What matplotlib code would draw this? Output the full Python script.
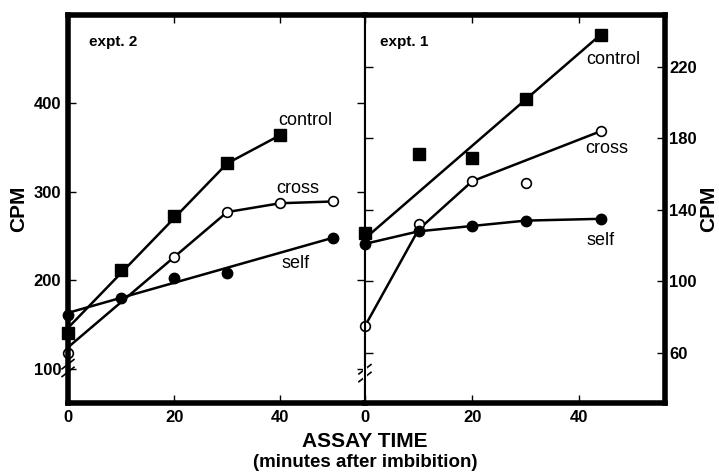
import matplotlib.pyplot as plt

plt.rcParams['font.family'] = ['Liberation Sans', 'DejaVu Sans']

# expt. 2 (left panel)
e2_control_x = [0, 10, 20, 30, 40]
e2_control_y = [140, 212, 272, 332, 364]
e2_cross_x = [0, 20, 30, 40, 50]
e2_cross_y = [118, 226, 277, 287, 289]
e2_self_x = [0, 10, 20, 30, 50]
e2_self_y = [161, 180, 202, 208, 248]
# drawn lines, expt. 2
e2_control_line_x = [0, 30, 40]
e2_control_line_y = [146, 332, 364]
e2_cross_line_x = [0, 30, 40, 50]
e2_cross_line_y = [124, 277, 287, 289]
e2_self_line_x = [0, 50]
e2_self_line_y = [163, 248]

# expt. 1 (right panel)
e1_control_x = [0, 10, 20, 30, 44]
e1_control_y = [127, 171, 169, 202, 238]
e1_cross_x = [0, 10, 20, 30, 44]
e1_cross_y = [75, 132, 156, 155, 184]
e1_self_x = [0, 10, 20, 30, 44]
e1_self_y = [121, 128, 131, 134, 135]
# drawn lines, expt. 1
e1_control_line_x = [0, 44]
e1_control_line_y = [124, 238]
e1_cross_line_x = [0, 10, 20, 44]
e1_cross_line_y = [75, 129, 156, 184]
e1_self_line_x = [0, 10, 20, 30, 44]
e1_self_line_y = [121, 128, 131, 134, 135]

left_yticks = [100, 200, 300, 400]
right_yticks = [60, 100, 140, 180, 220]
xticks = [0, 20, 40]

fig = plt.figure(figsize=(7.19, 4.74), dpi=100)
ax1 = fig.add_axes([0.0946, 0.1498, 0.413, 0.8186])
ax2 = fig.add_axes([0.5076, 0.1498, 0.4173, 0.8186])

lw = 1.8
sq = dict(marker='s', color='black', markersize=8, linestyle='none')
oc = dict(marker='o', markerfacecolor='white', markeredgecolor='black',
          markeredgewidth=1.2, markersize=7, linestyle='none')
fc = dict(marker='o', color='black', markersize=7.5, linestyle='none')

for ax in (ax1, ax2):
    ax.set_xlim(0, 56)
    for s in ax.spines.values():
        s.set_linewidth(4)
    ax.tick_params(which='both', direction='in', length=6, width=1,
                   labelsize=12, pad=5)
    ax.set_xticks(xticks)

# left panel
ax1.plot(e2_control_line_x, e2_control_line_y, color='black', lw=lw)
ax1.plot(e2_cross_line_x, e2_cross_line_y, color='black', lw=lw)
ax1.plot(e2_self_line_x, e2_self_line_y, color='black', lw=lw)
ax1.plot(e2_control_x, e2_control_y, **sq, clip_on=False)
ax1.plot(e2_cross_x, e2_cross_y, **oc, clip_on=False)
ax1.plot(e2_self_x, e2_self_y, **fc, clip_on=False)
ax1.set_ylim(61, 500)
ax1.set_yticks(left_yticks)
ax1.set_yticklabels([str(v) for v in left_yticks], fontweight='bold')
ax1.set_xticklabels([str(v) for v in xticks], fontweight='bold')
ax1.tick_params(top=True, right=True)
ax1.spines['right'].set_linewidth(1.5)
ax1.set_ylabel('CPM', fontsize=15, fontweight='bold', labelpad=4)
ax1.text(0.07, 0.93, 'expt. 2', transform=ax1.transAxes, fontsize=11,
         fontweight='bold', va='center')
ax1.text(44.7, 381, 'control', fontsize=13, ha='center', va='center')
ax1.text(43.4, 304, 'cross', fontsize=13, ha='center', va='center')
ax1.text(43, 219, 'self', fontsize=13, ha='center', va='center')

# right panel
ax2.plot(e1_control_line_x, e1_control_line_y, color='black', lw=lw)
ax2.plot(e1_cross_line_x, e1_cross_line_y, color='black', lw=lw)
ax2.plot(e1_self_line_x, e1_self_line_y, color='black', lw=lw)
ax2.plot(e1_control_x, e1_control_y, **sq, clip_on=False)
ax2.plot(e1_cross_x, e1_cross_y, **oc, clip_on=False)
ax2.plot(e1_self_x, e1_self_y, **fc, clip_on=False)
ax2.set_ylim(32, 249)
ax2.set_yticks(right_yticks)
ax2.tick_params(axis='y', left=True, right=True, labelleft=False,
                labelright=True, pad=3)
ax2.set_yticklabels([str(v) for v in right_yticks], fontweight='bold')
ax2.tick_params(top=True)
ax2.spines['left'].set_linewidth(1.5)
ax2.set_xticklabels([str(v) for v in xticks], fontweight='bold')
ax2.yaxis.set_label_position('right')
ax2.set_ylabel('CPM', fontsize=15, fontweight='bold', labelpad=2,
               rotation=90)
ax2.text(0.05, 0.93, 'expt. 1', transform=ax2.transAxes, fontsize=11,
         fontweight='bold', va='center')
ax2.text(46.4, 224, 'control', fontsize=13, ha='center', va='center')
ax2.text(45.2, 174.4, 'cross', fontsize=13, ha='center', va='center')
ax2.text(44, 122.8, 'self', fontsize=13, ha='center', va='center')

# axis breaks
for ax, yb in ((ax1, 0.09), (ax2, 0.077)):
    for dy in (-0.01, 0.01):
        ax.plot([-0.02, 0.02], [yb + dy - 0.012, yb + dy + 0.012],
                transform=ax.transAxes, color='black', lw=1.2, clip_on=False)
    ax.plot([0, 0], [yb - 0.01, yb + 0.01], transform=ax.transAxes,
            color='white', lw=3, clip_on=False)

fig.text(0.5076, 0.068, 'ASSAY TIME', fontsize=15, fontweight='bold',
         ha='center', va='center')
fig.text(0.5076, 0.025, '(minutes after imbibition)', fontsize=13.5,
         fontweight='bold', ha='center', va='center')

fig.savefig('out.png', dpi=100)
